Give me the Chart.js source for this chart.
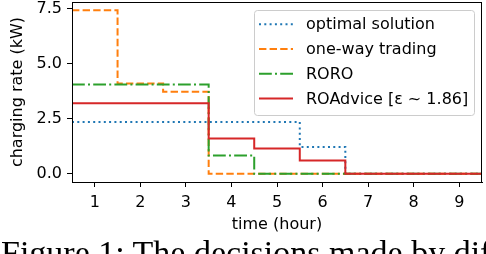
<!DOCTYPE html>
<html>
<head>
<meta charset="utf-8">
<script src="https://cdn.jsdelivr.net/npm/chart.js@4.4.1/dist/chart.umd.min.js"></script>
<style>
  html, body { margin: 0; padding: 0; background: #fff; }
  #wrap { position: relative; width: 486px; height: 254px; overflow: hidden; }
  #chart { display: block; }
  #caption {
    position: absolute; left: 1px; top: 234px;
    font-family: "Liberation Serif", "DejaVu Serif", serif; font-size: 34px;
    white-space: nowrap; color: #000;
  }
</style>
</head>
<body>
<div id="wrap">
  <canvas id="chart" width="486" height="254"></canvas>
  <div id="caption">Figure 1: The decisions made by different</div>
</div>
<script>
// data (value per hour)
const hours = [1, 2, 3, 4, 5, 6, 7, 8, 9];
const optimal = [2.35, 2.35, 2.35, 2.35, 2.35, 1.22, 0, 0, 0];
const oneWay = [7.42, 4.1, 3.72, 0, 0, 0, 0, 0, 0];
const roro = [4.05, 4.05, 4.05, 0.83, 0, 0, 0, 0, 0];
const roAdvice = [3.2, 3.2, 3.2, 1.6, 1.15, 0.6, 0, 0, 0];

const xTicks = [1, 2, 3, 4, 5, 6, 7, 8, 9];
const yTicks = [0, 2.5, 5, 7.5];

const font = { family: "DejaVu Sans", size: 16 };

// each hour is a flat step from h-0.5 to h+0.5
function stepPoints(vals) {
    const pts = hours.map((h, i) => ({ x: h - 0.5, y: vals[i] }));
    pts.push({ x: hours[hours.length - 1] + 0.5, y: vals[vals.length - 1] });
    return pts;
}

function series(label, vals, color, dash, order) {
    return {
        label: label,
        data: stepPoints(vals),
        borderColor: color,
        borderWidth: 2,
        borderDash: dash,
        borderCapStyle: "butt",
        stepped: "before",
        pointRadius: 0,
        fill: false,
        order: order,
    };
}

// box round the plot + legend in the upper right corner
const framePlugin = {
    id: "frame",
    afterDraw(chart) {
        const ctx = chart.ctx;
        const a = chart.chartArea;
        ctx.save();
        ctx.strokeStyle = "#000";
        ctx.lineWidth = 1;
        ctx.setLineDash([]);
        ctx.strokeRect(Math.round(a.left) + 0.5, Math.round(a.top) + 0.5,
            Math.round(a.right - a.left) - 1, Math.round(a.bottom - a.top));

        const bw = 220, bh = 105;
        const bx = a.right - 8 - bw, by = a.top + 8;
        ctx.beginPath();
        ctx.roundRect(bx + 0.5, by + 0.5, bw, bh, 3);
        ctx.fillStyle = "rgba(255,255,255,0.8)";
        ctx.fill();
        ctx.strokeStyle = "#cccccc";
        ctx.stroke();

        ctx.font = "16px 'DejaVu Sans'";
        ctx.textBaseline = "middle";
        ctx.textAlign = "left";
        chart.data.datasets.forEach((ds, i) => {
            const y = by + 14.3 + i * 24.7;
            ctx.beginPath();
            ctx.strokeStyle = ds.borderColor;
            ctx.lineWidth = 2;
            ctx.setLineDash(ds.borderDash);
            ctx.moveTo(bx + 5, y);
            ctx.lineTo(bx + 39, y);
            ctx.stroke();
            ctx.setLineDash([]);
            ctx.fillStyle = "#000";
            ctx.fillText(ds.label, bx + 52, y + 1);
        });
        ctx.restore();
    },
};

new Chart(document.getElementById("chart").getContext("2d"), {
    type: "line",
    data: {
        datasets: [
            series("optimal solution", optimal, "#1f77b4", [2, 3.3], 3),
            series("one-way trading", oneWay, "#ff7f0e", [7.4, 3.2], 2),
            series("RORO", roro, "#2ca02c", [12.8, 3.2, 2, 3.2], 1),
            series("ROAdvice [\u03b5 ~ 1.86]", roAdvice, "#d62728", [], 0),
        ],
    },
    options: {
        responsive: false,
        animation: false,
        layout: { padding: { top: 2, right: 4, left: 0, bottom: 0 } },
        plugins: {
            legend: { display: false },
            tooltip: { enabled: false },
        },
        scales: {
            x: {
                type: "linear",
                min: 0.5,
                max: 9.5,
                afterBuildTicks: (s) => { s.ticks = xTicks.map((v) => ({ value: v })); },
                afterFit: (s) => { s.height = 72; s.paddingLeft = 0; s.paddingRight = 0; },
                ticks: { font: font, color: "#000", padding: 6, maxRotation: 0, callback: (v) => String(v) },
                grid: { drawOnChartArea: false, drawTicks: true, tickLength: 5, color: "#000" },
                border: { color: "#000", width: 1 },
                title: { display: true, text: "time (hour)", font: font, color: "#000", padding: { top: 0, bottom: 19.4 } },
            },
            y: {
                min: -0.37,
                max: 7.79,
                afterBuildTicks: (s) => { s.ticks = yTicks.map((v) => ({ value: v })); },
                afterFit: (s) => { s.width = 72; s.paddingTop = 0; s.paddingBottom = 0; },
                ticks: { font: font, color: "#000", padding: 5, callback: (v) => v.toFixed(1) },
                grid: { drawOnChartArea: false, drawTicks: true, tickLength: 5, color: "#000" },
                border: { color: "#000", width: 1 },
                title: { display: true, text: "charging rate (kW)", font: font, color: "#000", padding: { top: 8.4, bottom: 0 } },
            },
        },
    },
    plugins: [framePlugin],
});
</script>
</body>
</html>
